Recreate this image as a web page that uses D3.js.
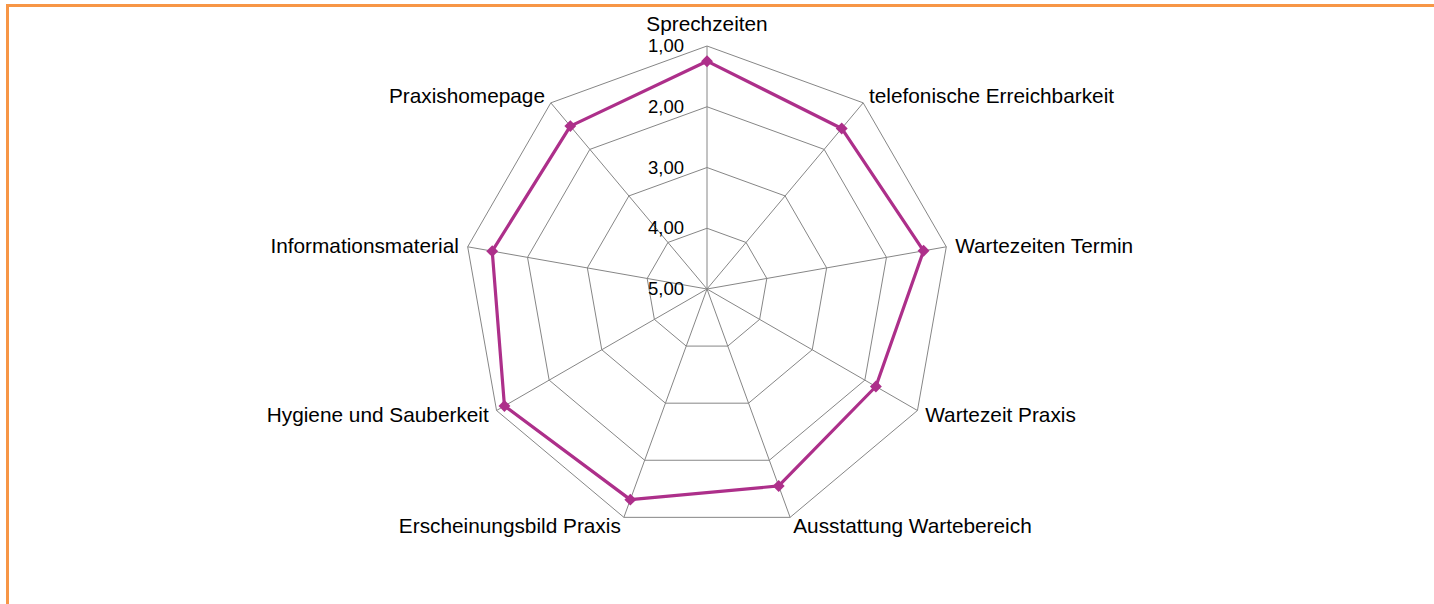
<!DOCTYPE html>
<html>
<head>
<meta charset="utf-8">
<script src="https://cdn.jsdelivr.net/npm/d3@7"></script>
<style>
  html, body { margin: 0; padding: 0; background: #fff; }
  svg { display: block; font-family: "Liberation Sans", Arial, sans-serif; }
</style>
</head>
<body>
<svg id="radar" width="1434" height="604"></svg>
<script>
// Categories clockwise from the top
const categories = [
  "Sprechzeiten",
  "telefonische Erreichbarkeit",
  "Wartezeiten Termin",
  "Wartezeit Praxis",
  "Ausstattung Wartebereich",
  "Erscheinungsbild Praxis",
  "Hygiene und Sauberkeit",
  "Informationsmaterial",
  "Praxishomepage"
];
const values = [1.25, 1.55, 1.38, 1.79, 1.55, 1.31, 1.15, 1.41, 1.50];
const ticks = [1, 2, 3, 4, 5];
const tickLabels = ["1,00", "2,00", "3,00", "4,00", "5,00"];

const svg = d3.select("#radar");
const cx = 707, cy = 289, radius = 243;
const lineColor = "#ad2f8a";

// Outer frame (orange border, open to the right/bottom)
svg.append("path")
  .attr("d", "M7.5,604 V5.5 H1434")
  .attr("fill", "none")
  .attr("stroke", "#f79646")
  .attr("stroke-width", 3);

// 1 is the best grade, drawn at the outer edge
const r = d3.scaleLinear().domain([5, 1]).range([0, radius]);
const n = categories.length;
const angle = i => -Math.PI / 2 + i * 2 * Math.PI / n;
const point = (i, v) => [cx + r(v) * Math.cos(angle(i)), cy + r(v) * Math.sin(angle(i))];

const g = svg.append("g");

// Grid rings
ticks.forEach(t => {
  g.append("path")
    .attr("d", d3.line()(d3.range(n).map(i => point(i, t))) + "Z")
    .attr("fill", "none")
    .attr("stroke", "#868686")
    .attr("stroke-width", 1);
});

// Spokes
categories.forEach((c, i) => {
  const [x, y] = point(i, 1);
  g.append("line")
    .attr("x1", cx).attr("y1", cy)
    .attr("x2", x).attr("y2", y)
    .attr("stroke", "#868686")
    .attr("stroke-width", 1);
});

// Tick labels along the vertical axis
ticks.forEach((t, k) => {
  g.append("text")
    .attr("x", cx - 23)
    .attr("y", cy - r(t) + 6)
    .attr("text-anchor", "end")
    .attr("font-size", "18.5px")
    .attr("fill", "#000")
    .text(tickLabels[k]);
});

// Series line
g.append("path")
  .attr("d", d3.line()(values.map((v, i) => point(i, v))) + "Z")
  .attr("fill", "none")
  .attr("stroke", lineColor)
  .attr("stroke-width", 3.2)
  .attr("stroke-linejoin", "round");

// Diamond markers
g.selectAll(".marker")
  .data(values)
  .join("path")
  .attr("class", "marker")
  .attr("d", d3.symbol().type(d3.symbolDiamond2).size(90))
  .attr("transform", (v, i) => `translate(${point(i, v)})`)
  .attr("fill", lineColor);

// Category labels
categories.forEach((c, i) => {
  const [vx, vy] = point(i, 1);
  const ca = Math.cos(angle(i)), sa = Math.sin(angle(i));
  const txt = g.append("text")
    .attr("font-size", "20.8px")
    .attr("fill", "#000")
    .text(c);
  if (Math.abs(ca) < 0.1) {
    txt.attr("x", vx).attr("y", vy - 15).attr("text-anchor", "middle");
  } else {
    txt.attr("x", vx + 9 * ca)
      .attr("y", vy + 9 * sa)
      .attr("dy", "0.35em")
      .attr("text-anchor", ca > 0 ? "start" : "end");
  }
});
</script>
</body>
</html>
